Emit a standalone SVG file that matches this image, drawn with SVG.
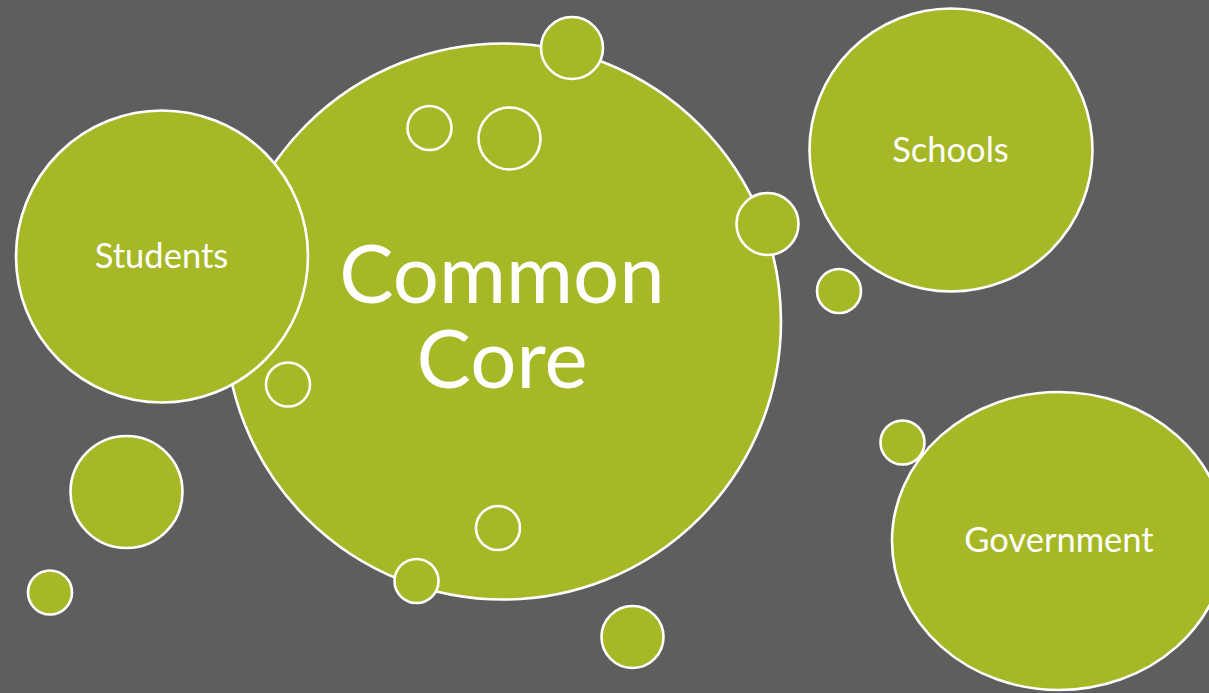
<svg xmlns="http://www.w3.org/2000/svg" width="1209" height="693" viewBox="0 0 1209 693">
<style>
.c{fill:#A7B827;stroke:#FFFFFF;stroke-width:2.6}
.o{fill:none;stroke:#FFFFFF;stroke-width:2.6}
.t{fill:#FFFFFF;font-family:Lato,"Liberation Sans",sans-serif;text-anchor:middle}
.s{font-size:34.5px}
.b{font-size:81.5px}
</style>
<rect width="1209" height="693" fill="#5E5E5E"/>
<g id="common-core">
<circle class="c" cx="503" cy="321.5" r="278"/>
<text class="t b"><tspan x="502" y="303">Common</tspan><tspan x="502" y="388">Core</tspan></text>
</g>
<g id="students">
<circle class="c" cx="162" cy="256.5" r="146"/>
<text class="t s" x="161.5" y="268">Students</text>
</g>
<g id="schools">
<circle class="c" cx="951" cy="150" r="141.5"/>
<text class="t s" x="950.5" y="162">Schools</text>
</g>
<g id="government">
<ellipse class="c" cx="1059" cy="541" rx="167" ry="149"/>
<text class="t s" x="1059" y="552">Government</text>
</g>
<g id="bubbles">
<circle class="c" cx="572" cy="48" r="31"/>
<circle class="o" cx="429.5" cy="128" r="22"/>
<circle class="o" cx="509.5" cy="138.5" r="31"/>
<circle class="c" cx="767.5" cy="224" r="31"/>
<circle class="c" cx="839" cy="291" r="22"/>
<circle class="o" cx="288" cy="384.5" r="22"/>
<circle class="c" cx="126.5" cy="492" r="56"/>
<circle class="c" cx="50" cy="592.5" r="22"/>
<circle class="o" cx="498" cy="528" r="22"/>
<circle class="c" cx="416.5" cy="581" r="22"/>
<circle class="c" cx="632.5" cy="637" r="31"/>
<circle class="c" cx="902.5" cy="442.5" r="22"/>
</g>
</svg>
